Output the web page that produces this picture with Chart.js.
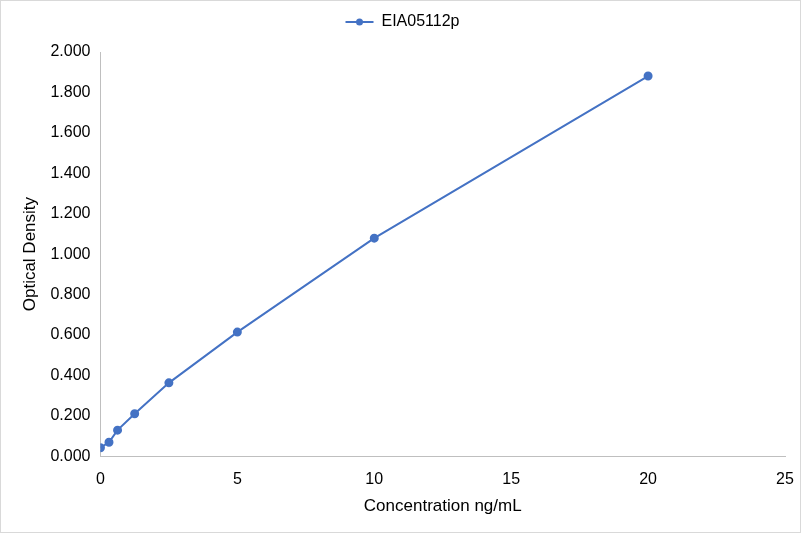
<!DOCTYPE html>
<html>
<head>
<meta charset="utf-8">
<script src="https://cdn.jsdelivr.net/npm/chart.js@4"></script>
<style>
  html, body { margin: 0; padding: 0; background: #fff; }
  #wrap { width: 799px; height: 531px; border: 1px solid #d9d9d9; }
</style>
</head>
<body>
<div id="wrap"><canvas id="curve" width="799" height="531"></canvas></div>
<script>
const series_name = "EIA05112p"
const concentration = [0, 0.3125, 0.625, 1.25, 2.5, 5, 10, 20]
const optical_density = [0.042, 0.069, 0.129, 0.210, 0.363, 0.614, 1.079, 1.881]

const line_color = "#4472c4"
const text_color = "#000000"
const font_family = "Liberation Sans"

const points = concentration.map((x, i) => ({ x: x, y: optical_density[i] }))

// legend marker: a short line with a dot in the middle, and some room under the legend
const legend_marker =
{
  id: "legend_marker",
  beforeInit(chart)
  {
    const fit = chart.legend.fit
    chart.legend.fit = function ()
    {
      fit.bind(chart.legend)()
      this.height += 12
    }
  },
  afterDraw(chart)
  {
    const legend = chart.legend
    if (!legend || !legend.legendHitBoxes) return
    const ctx = chart.ctx
    legend.legendHitBoxes.forEach(box =>
    {
      const cy = box.top + box.height / 2
      ctx.save()
      ctx.fillStyle = line_color
      ctx.beginPath()
      ctx.arc(box.left + 14, cy, 3.5, 0, Math.PI * 2)
      ctx.fill()
      ctx.restore()
    })
  }
}

new Chart(document.getElementById("curve").getContext("2d"),
{
  type: "line",
  data:
  {
    datasets:
    [
      {
        label: series_name,
        data: points,
        borderColor: line_color,
        backgroundColor: line_color,
        borderWidth: 2,
        pointRadius: 3.5,
        pointHoverRadius: 3.5,
        tension: 0
      }
    ]
  },
  options:
  {
    responsive: false,
    animation: false,
    layout: { padding: { left: 19, right: 15, top: 1, bottom: 17 } },
    plugins:
    {
      legend:
      {
        position: "top",
        labels:
        {
          color: text_color,
          font: { family: font_family, size: 16 },
          usePointStyle: true,
          pointStyle: "line",
          pointStyleWidth: 28,
          padding: 12
        }
      },
      tooltip: { enabled: false }
    },
    scales:
    {
      x:
      {
        type: "linear",
        min: 0,
        max: 25,
        ticks: { stepSize: 5, color: text_color, padding: 2, font: { family: font_family, size: 16, lineHeight: 0.8 } },
        // invisible tick marks keep the labels away from the axis line
        grid: { display: true, drawOnChartArea: false, drawTicks: true, tickLength: 15, tickColor: "rgba(0,0,0,0)" },
        border: { color: "#bfbfbf" },
        title:
        {
          display: true,
          text: "Concentration ng/mL",
          color: text_color,
          padding: { top: 10, bottom: 0 },
          font: { family: font_family, size: 17, lineHeight: 1 }
        }
      },
      y:
      {
        min: 0,
        max: 2,
        ticks:
        {
          stepSize: 0.2,
          color: text_color,
          padding: 10,
          font: { family: font_family, size: 16 },
          callback: v => v.toFixed(3)
        },
        grid: { display: false, drawTicks: false },
        border: { color: "#bfbfbf" },
        title:
        {
          display: true,
          text: "Optical Density",
          color: text_color,
          padding: { top: 0, bottom: 0 },
          font: { family: font_family, size: 17 }
        }
      }
    }
  },
  plugins: [legend_marker]
})
</script>
</body>
</html>
